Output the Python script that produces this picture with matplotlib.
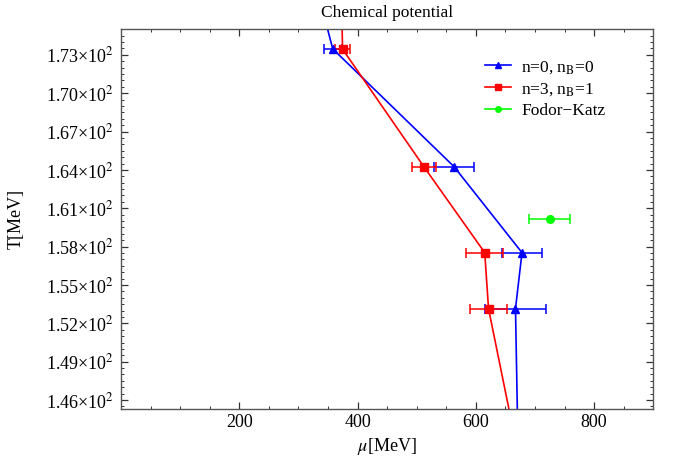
import matplotlib
matplotlib.use("Agg")
import matplotlib.pyplot as plt
from matplotlib.ticker import MultipleLocator, FixedLocator, FuncFormatter
from matplotlib.lines import Line2D

plt.rcParams['font.family'] = ['Liberation Serif', 'DejaVu Serif']
plt.rcParams['mathtext.fontset'] = 'stix'

# n=0, nB=0 (blue); first/last entries continue the curve outside the view
mu_n0 = [338, 358, 563, 678, 667, 671]
T_n0 = [177.0, 173.47, 164.26, 157.53, 153.15, 143.0]
err_n0 = [0, 15, 34, 33, 51, 0]

# n=3, nB=1 (red)
mu_n3 = [373, 374.6, 512, 615, 621.4, 666]
T_n3 = [177.0, 173.45, 164.26, 157.53, 153.15, 143.0]
err_n3 = [0, 12, 20.5, 31, 30.5, 0]

# Fodor-Katz (green)
mu_fk = [725]
T_fk = [160.14]
err_fk = [35]

y_ticks = [146, 149, 152, 155, 158, 161, 164, 167, 170, 173]
x_ticks = [200, 400, 600, 800]

title = "Chemical potential"
xlabel = r"$\mu$[MeV]"
ylabel = "T[MeV]"
labels = [r"n=0, n$_\mathrm{B}$=0", r"n=3, n$_\mathrm{B}$=1", "Fodor\u2212Katz"]
colors = [(0, 0, 1), (1, 0, 0), (0, 1, 0)]
markers = ['^', 's', 'o']

fig = plt.figure(figsize=(6.75, 4.62), dpi=100)
ax = fig.add_axes([121/675, 1-409/462, (653.3-121)/675, (409-29.3)/462])

kw = dict(capsize=3.5, elinewidth=1.1, capthick=1.1, lw=1.2)
ax.errorbar(mu_n0, T_n0, xerr=err_n0, color=colors[0], marker=markers[0], ms=5.5, **kw)
ax.errorbar(mu_n3, T_n3, xerr=err_n3, color=colors[1], marker=markers[1], ms=5.5, **kw)
ax.errorbar(mu_fk, T_fk, xerr=err_fk, color=colors[2], marker=markers[2], ms=5.5, **kw)

ax.set_xlim(0, 900)
ax.set_ylim(145.3, 175.0)
ax.xaxis.set_major_locator(FixedLocator(x_ticks))
ax.xaxis.set_minor_locator(MultipleLocator(50))
ax.yaxis.set_major_locator(FixedLocator(y_ticks))
ax.yaxis.set_minor_locator(MultipleLocator(0.5))

def yfmt(v, pos):
    return "%.2f\u00d710$^{2}$" % (v / 100.0)

ax.yaxis.set_major_formatter(FuncFormatter(yfmt))
ax.xaxis.set_major_formatter(FuncFormatter(lambda v, p: "%d" % v))

for s in ax.spines.values():
    s.set_color('#555555')
    s.set_linewidth(1.0)
ax.tick_params(which='both', direction='in', top=True, right=True, color='#333333', labelsize=13)
ax.tick_params(which='major', length=5, width=0.9)
ax.tick_params(which='minor', length=2.5, width=0.7)
ax.tick_params(axis='y', pad=5)

ax.set_title(title, fontsize=12.5, pad=9)
ax.set_xlabel(xlabel, fontsize=13, labelpad=4)
ax.set_ylabel(ylabel, fontsize=13)
ax.yaxis.set_label_coords(-0.18, 0.5)

handles = [Line2D([], [], color=c, marker=m, ms=4, lw=1.2) for c, m in zip(colors, markers)]
ax.legend(handles, labels, loc='upper left', bbox_to_anchor=(0.67, 0.94),
          frameon=False, fontsize=12.5, handlelength=1.5, handletextpad=0.6,
          labelspacing=0.3, borderaxespad=0)

fig.savefig("out.png", dpi=100)
